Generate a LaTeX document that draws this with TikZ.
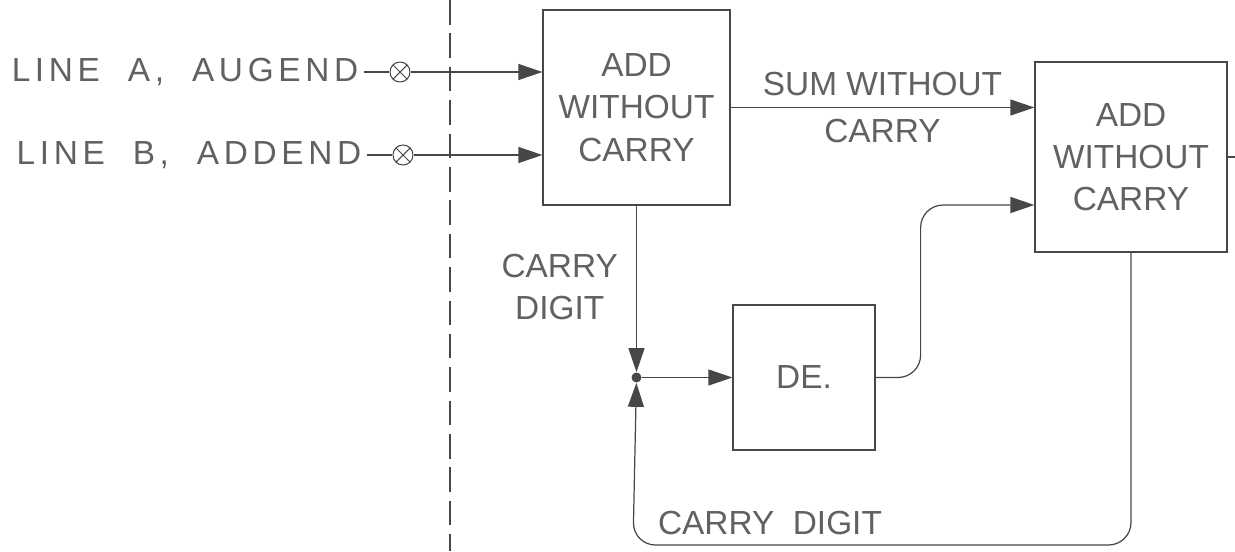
\documentclass[tikz,border=0pt]{standalone}
\usepackage{fontspec}
\setmainfont{Liberation Sans}
\usepackage{tikz}
\usetikzlibrary{positioning, arrows.meta, shapes.geometric}
\colorlet{ink}{black!72}
\colorlet{inktext}{black!62}
\tikzset{
  block/.style={rectangle, draw=ink, line width=0.7pt, text=inktext, align=center, font=\fontsize{19}{24}\selectfont},
  xmark/.style={circle, draw=ink, line width=0.6pt, minimum size=0.4cm, inner sep=0pt,
    path picture={\draw[ink, line width=0.6pt] (path picture bounding box.north west) -- (path picture bounding box.south east)
      (path picture bounding box.south west) -- (path picture bounding box.north east);}},
  label/.style={text=inktext, align=center, font=\fontsize{19}{24}\selectfont},
  line/.style={draw=ink, line width=0.7pt},
  arrow/.style={draw=ink, line width=0.7pt, -{Triangle[length=4.8mm,width=3.2mm]}}
}

\begin{document}
\begin{tikzpicture}[node distance=0.35cm and 0.35cm]
            \useasboundingbox (0,0) rectangle (24.7,-11.02);

            % Blocks
            \node (add1) [block, minimum width=3.74cm, minimum height=3.9cm] at (12.73,-2.15) {ADD\\WITHOUT\\CARRY};
            \node (add2) [block, minimum width=3.84cm, minimum height=3.8cm] at (22.62,-3.14) {ADD\\WITHOUT\\CARRY};
            \node (de) [block, minimum width=2.84cm, minimum height=2.9cm] at (16.08,-7.55) {DE.};

            % Inputs
            \node (xa) [xmark] at (8.0,-1.44) {};
            \node (xb) [xmark] at (8.06,-3.1) {};
            \node (linea) [label, left=0.5cm of xa] {\addfontfeature{LetterSpace=14}LINE~~A,~~AUGEND};
            \node (lineb) [label, left=0.5cm of xb] {\addfontfeature{LetterSpace=14}LINE~~B,~~ADDEND};
            \node (jn) [circle, fill=ink, inner sep=0pt, minimum size=0.2cm] at (add1.south |- de.west) {};
            \coordinate (loop) at (12.66,-10.9);
            \coordinate (out) at (24.7,-3.14);

            % Dividing line
            \draw [ink, line width=0.6pt, dash pattern=on 14pt off 5pt] (9.0,0) -- (9.0,-11.02);

            % Connections
            \draw [line] (linea) -- (xa);
            \draw [line] (lineb) -- (xb);
            \draw [arrow] (xa) -- (xa -| add1.west);
            \draw [arrow] (xb) -- (xb -| add1.west);
            \draw [arrow] (add1.east) -- (add1.east -| add2.west)
                node [label, midway, above=3pt] {SUM WITHOUT}
                node [label, midway, below=3pt] {CARRY};
            \draw [arrow] (add1.south) -- (jn);
            \draw [arrow] (jn) -- (de.west);
            \draw [arrow, rounded corners=0.45cm] (de.east) -- ++(0.9,0) |- ([yshift=-0.96cm]add2.west);
            \draw [line] (add2.east) -- (out);

            % Carry back to the junction
            \draw [arrow, rounded corners=0.45cm] (add2.south) |- (loop) -- (jn);

            % Labels
            \node (cdl) [label, left=0.25cm of add1.south, anchor=north east, yshift=-0.85cm] {CARRY\\DIGIT};
            \node (cdb) [label] at (15.4,-10.45) {CARRY~~DIGIT};
        \end{tikzpicture}
\end{document}
